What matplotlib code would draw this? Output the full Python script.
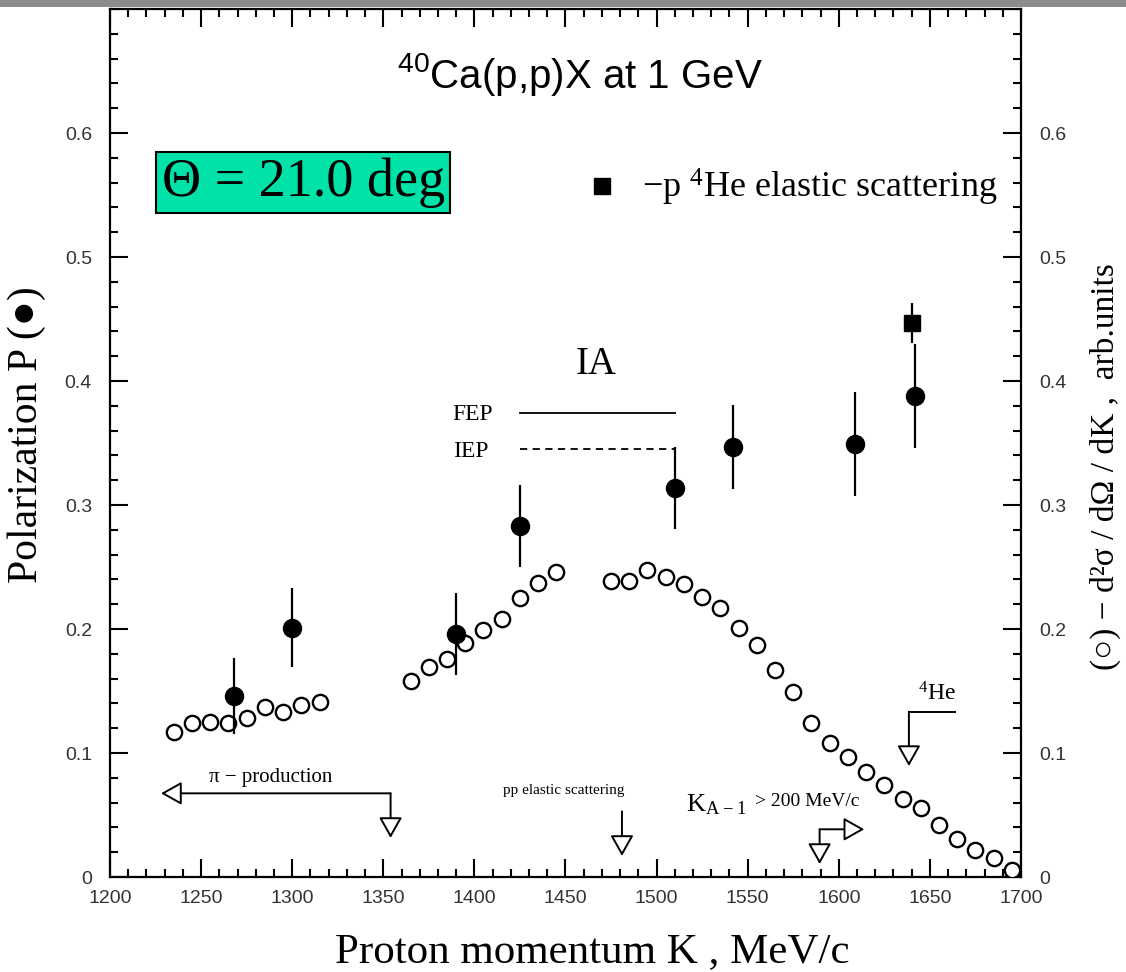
import matplotlib
matplotlib.use("Agg")
import matplotlib.pyplot as plt
from matplotlib.patches import Rectangle
import numpy as np

plt.rcParams['mathtext.default'] = 'regular'

SERIF = ['Liberation Serif', 'DejaVu Serif']
SANS = ['Liberation Sans', 'DejaVu Sans']

# polarization P (filled circles) with errors
pol_k = [1268, 1300, 1390, 1425, 1510, 1542, 1609, 1642]
pol_p = [0.146, 0.201, 0.196, 0.283, 0.314, 0.347, 0.349, 0.388]
pol_err = [0.031, 0.032, 0.033, 0.033, 0.033, 0.034, 0.042, 0.042]

# p-4He elastic scattering point (filled square)
he_k = [1640]
he_p = [0.447]
he_err = [0.016]

# cross section d2sigma/dOmega/dK (open circles), arb. units
xs_k = [1235, 1245, 1255, 1265, 1275, 1285, 1295, 1305, 1315,
        1365, 1375, 1385, 1395, 1405, 1415, 1425, 1435, 1445,
        1475, 1485, 1495, 1505, 1515, 1525, 1535, 1545, 1555, 1565,
        1575, 1585, 1595, 1605, 1615, 1625, 1635, 1645, 1655, 1665,
        1675, 1685, 1695]
xs_val = [0.117, 0.124, 0.125, 0.124, 0.128, 0.137, 0.133, 0.139, 0.141,
          0.158, 0.169, 0.176, 0.189, 0.199, 0.208, 0.225, 0.237, 0.246,
          0.239, 0.239, 0.248, 0.242, 0.236, 0.226, 0.217, 0.201, 0.187, 0.167,
          0.149, 0.124, 0.108, 0.097, 0.085, 0.074, 0.063, 0.056, 0.042, 0.031,
          0.022, 0.015, 0.006]

ytick_vals = [0, 0.1, 0.2, 0.3, 0.4, 0.5, 0.6]
ytick_labels = ['0', '0.1', '0.2', '0.3', '0.4', '0.5', '0.6']
xtick_vals = [1200, 1250, 1300, 1350, 1400, 1450, 1500, 1550, 1600, 1650, 1700]

fig = plt.figure(figsize=(11.26, 9.72), dpi=100)
ax = fig.add_axes([0.0977, 0.0977, 0.809, 0.893])

# open circles with tiny inner error bars
ax.errorbar(xs_k, xs_val, yerr=0.004, fmt='o', ms=11, mfc='white', mec='black',
            mew=1.7, ecolor='black', elinewidth=1.2, capsize=0, zorder=3)
ax.errorbar(pol_k, pol_p, yerr=pol_err, fmt='o', ms=13, color='black',
            elinewidth=1.6, capsize=0, zorder=4)
ax.errorbar(he_k, he_p, yerr=he_err, fmt='s', ms=12, color='black',
            elinewidth=1.6, capsize=0, zorder=4)

ax.set_xlim(1200, 1700)
ax.set_ylim(0, 0.7)
ax.set_xticks(xtick_vals)
ax.set_xticks(np.arange(1200, 1701, 10), minor=True)
ax.set_yticks(ytick_vals)
ax.set_yticklabels(ytick_labels)
ax.set_yticks(np.arange(0, 0.701, 0.02), minor=True)
ax.tick_params(which='both', direction='in', top=True, right=True,
               labelright=True, width=1.5, colors='black')
ax.tick_params(which='major', length=13)
ax.tick_params(which='minor', length=6)
ax.tick_params(axis='x', pad=9)
ax.tick_params(axis='y', which='major', pad=13)
for lab in ax.get_xticklabels() + ax.yaxis.get_majorticklabels():
    lab.set_family(SANS)
    lab.set_fontsize(14)
    lab.set_color('#333333')
for sp in ax.spines.values():
    sp.set_linewidth(1.6)

# title and boxes
ax.text(1458, 0.647, r'$^{40}$Ca(p,p)X at 1 GeV', family=SANS, fontsize=29,
        ha='center', va='center')
ax.text(1306, 0.560, 'Θ = 21.0 deg', family=SERIF, fontsize=39,
        ha='center', va='center',
        bbox=dict(boxstyle='square,pad=0.1', fc='#00E2A8', ec='black', lw=1.5))
ax.plot([1470], [0.557], 's', ms=12, color='black')
ax.text(1687, 0.556, r'$-$p $^4$He elastic scattering', family=SERIF,
        fontsize=26, ha='right', va='center')

# IA lines
ax.text(1467, 0.413, 'IA', family=SERIF, fontsize=28, ha='center', va='center')
ax.text(1399, 0.373, 'FEP', family=SERIF, fontsize=17, ha='center', va='center')
ax.text(1398, 0.343, 'IEP', family=SERIF, fontsize=17, ha='center', va='center')
ax.plot([1425, 1510], [0.374, 0.374], color='black', lw=1.3)
ax.plot([1425, 1510], [0.345, 0.345], color='black', lw=1.3, ls=(0, (4, 3)))

arrow = dict(arrowstyle='-|>,head_length=0.8,head_width=0.45', fc='white',
             ec='black', lw=1.4, mutation_scale=16, shrinkA=0, shrinkB=0)

# pi production
ax.text(1288, 0.080, 'π − production', family=SERIF, fontsize=15,
        ha='center', va='center')
ax.annotate('', xy=(1228, 0.0675), xytext=(1354, 0.0675), arrowprops=arrow)
ax.annotate('', xy=(1354, 0.0315), xytext=(1354, 0.0675), arrowprops=arrow)

# pp elastic scattering
ax.text(1449, 0.070, 'pp elastic scattering', family=SERIF, fontsize=11,
        ha='center', va='center')
ax.annotate('', xy=(1481, 0.017), xytext=(1481, 0.053), arrowprops=arrow)

# K_A-1 > 200 MeV/c
ax.text(1516, 0.058, r'K$_{A-1}$', family=SERIF, fontsize=19,
        ha='left', va='center')
ax.text(1554, 0.061, '> 200 MeV/c', family=SERIF, fontsize=14,
        ha='left', va='center')
ax.annotate('', xy=(1589.5, 0.0105), xytext=(1589.5, 0.0385), arrowprops=arrow)
ax.annotate('', xy=(1614, 0.0385), xytext=(1589.5, 0.0385), arrowprops=arrow)

# 4He
ax.text(1654, 0.148, r'$^4$He', family=SERIF, fontsize=17,
        ha='center', va='center')
ax.plot([1664, 1638.5], [0.1333, 0.1333], color='black', lw=1.4)
ax.annotate('', xy=(1638.5, 0.0895), xytext=(1638.5, 0.1333), arrowprops=arrow)

# axis labels
fig.text(0.526, 0.021, 'Proton momentum K , MeV/c', family=SERIF, fontsize=31,
         ha='center', va='center')
fig.text(0.024, 0.553, 'Polarization P (●)', family=SERIF, fontsize=30,
         rotation=90, ha='center', va='center')
fig.text(0.982, 0.52, '(○) − d²σ / d\u03a9 / dK ,  arb.units', family=SERIF,
         fontsize=24, rotation=90, ha='center', va='center')

# grey window strip at top
fig.patches.append(Rectangle((0, 0.9925), 1, 0.0075, transform=fig.transFigure,
                             fc='#8c8c8c', ec='none'))

fig.savefig('out.png', dpi=100)
